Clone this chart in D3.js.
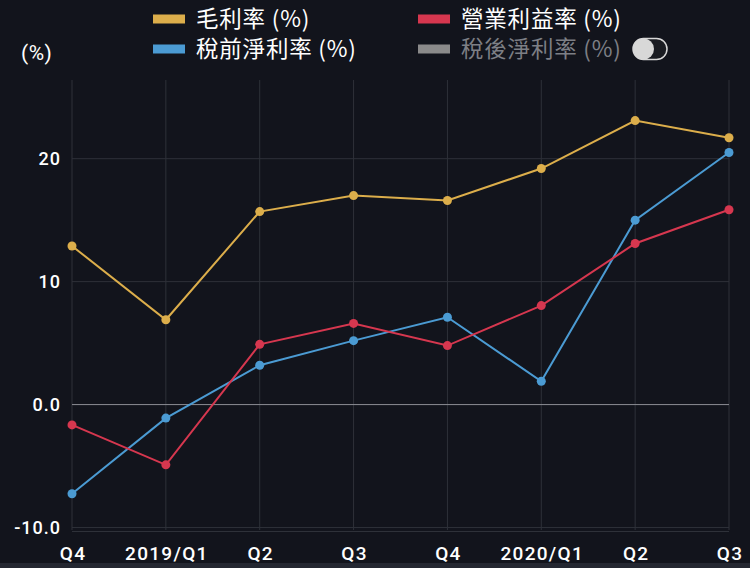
<!DOCTYPE html>
<html><head><meta charset="utf-8">
<script src="https://cdn.jsdelivr.net/npm/d3@7"></script>
<style>
html,body{margin:0;padding:0;background:#12141c;}
svg{display:block;}
.cjk{font-family:"Noto Sans CJK TC","Noto Sans",sans-serif;}
.num{font-family:Roboto,"Noto Sans",sans-serif;}
</style></head>
<body>
<script>
const categories = ["Q4","2019/Q1","Q2","Q3","Q4","2020/Q1","Q2","Q3"];
const grossMargin = [12.9, 6.9, 15.7, 17.0, 16.6, 19.2, 23.1, 21.7];
const operatingMargin = [-1.65, -4.9, 4.9, 6.6, 4.8, 8.05, 13.1, 15.85];
const pretaxMargin = [-7.25, -1.1, 3.2, 5.2, 7.1, 1.9, 15.0, 20.5];
const yTicks = [-10, 0, 10, 20];
const yTickLabels = ["-10.0", "0.0", "10", "20"];
const seriesNames = ["毛利率 (%)", "營業利益率 (%)", "稅前淨利率 (%)", "稅後淨利率 (%)"];
const seriesColors = ["#dcae4b", "#d6374f", "#4b9bd3", "#8a8a8a"];

const W = 750, H = 568;
const svg = d3.select("body").append("svg").attr("width", W).attr("height", H);
svg.append("rect").attr("x",0).attr("y",0).attr("width",W).attr("height",H).attr("fill","#12141c");
svg.append("rect").attr("x",0).attr("y",563).attr("width",W).attr("height",5).attr("fill","#242731");

const x = d3.scalePoint().domain(d3.range(categories.length)).range([72, 729]);
const y = d3.scaleLinear().domain([-10.2, 26.4]).range([530, 80]);

const g = svg.append("g");
g.selectAll("line.vg").data(d3.range(categories.length)).join("line")
  .attr("x1", d => x(d)).attr("x2", d => x(d)).attr("y1", y(26.4)).attr("y2", y(-10.2))
  .attr("stroke", "#2e3139").attr("stroke-width", 1);
g.selectAll("line.hg").data(yTicks).join("line")
  .attr("x1", 72).attr("x2", 729).attr("y1", d => y(d)).attr("y2", d => y(d))
  .attr("stroke", d => d === 0 ? "#8c8e94" : "#2e3139").attr("stroke-width", 1);
g.append("line").attr("x1",72).attr("x2",729).attr("y1",y(-10.2)+1.5).attr("y2",y(-10.2)+1.5)
  .attr("stroke","#2e3139");

g.selectAll("text.yl").data(yTicks).join("text")
  .attr("class", "num")
  .attr("x", 61).attr("y", d => y(d)).attr("dy", "0.36em")
  .attr("text-anchor", "end").attr("fill", "#ffffff")
  .attr("font-size", 18).attr("font-weight", 500).attr("letter-spacing", 1)
  .text((d, i) => yTickLabels[i]);
g.selectAll("text.xl").data(categories).join("text")
  .attr("class", "num")
  .attr("x", (d, i) => x(i) + 1).attr("y", 560).attr("text-anchor", "middle").attr("fill", "#ffffff")
  .attr("font-size", 19).attr("font-weight", 500).attr("letter-spacing", 1.3)
  .text(d => d);

svg.append("text").attr("class", "num").attr("x", 21).attr("y", 60).attr("fill", "#ffffff")
  .attr("font-size", 21).attr("letter-spacing", 0.5).text("(%)");

const line = d3.line().x((d, i) => x(i)).y(d => y(d));
const series = [grossMargin, operatingMargin, pretaxMargin];
[0, 2, 1].forEach(k => {
  const data = series[k];
  svg.append("path").datum(data).attr("d", line).attr("fill", "none")
    .attr("stroke", seriesColors[k]).attr("stroke-width", 2);
  svg.selectAll(null).data(data).join("circle")
    .attr("cx", (d, i) => x(i)).attr("cy", d => y(d)).attr("r", 4.5)
    .attr("fill", seriesColors[k]);
});

const legendPos = [[153, 19], [418, 19], [153, 49], [418, 49]];
const leg = svg.append("g");
seriesNames.forEach((n, i) => {
  const [lx, ly] = legendPos[i];
  leg.append("rect").attr("x", lx).attr("y", ly - 4.5).attr("width", 32).attr("height", 9)
    .attr("fill", seriesColors[i]);
  leg.append("text").attr("class", "cjk").attr("x", lx + 43).attr("y", ly).attr("dy", "0.36em")
    .attr("fill", i === 3 ? "#7d7f85" : "#ffffff").attr("font-size", 22.5).attr("letter-spacing", 0.8)
    .text(n);
});
leg.append("rect").attr("x", 633).attr("y", 38.5).attr("width", 34).attr("height", 21).attr("rx", 10.5)
  .attr("fill", "#1a1c22").attr("stroke", "#d8d8d8").attr("stroke-width", 1.5);
leg.append("circle").attr("cx", 643.5).attr("cy", 49).attr("r", 10.5).attr("fill", "#d8d8d8");
</script>
</body></html>
